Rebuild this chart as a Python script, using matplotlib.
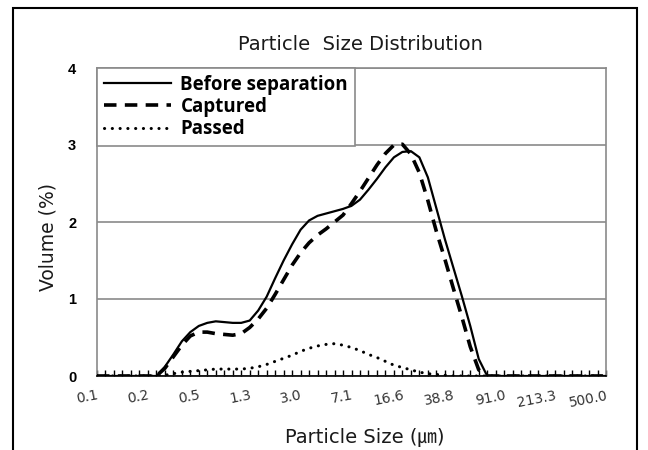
import numpy as np
import matplotlib
matplotlib.use("Agg")
import matplotlib.pyplot as plt
from matplotlib.patches import Rectangle

# ---- data (volume % per size class) ----
before = [0, 0, 0, 0, 0, 0, 0, 0, 0.12, 0.28,
          0.45, 0.57, 0.65, 0.69, 0.71, 0.70, 0.69, 0.69, 0.72, 0.85,
          1.03, 1.27, 1.50, 1.71, 1.90, 2.02, 2.08, 2.11, 2.14, 2.17,
          2.21, 2.29, 2.42, 2.56, 2.71, 2.84, 2.91, 2.92, 2.84, 2.58,
          2.18, 1.78, 1.41, 1.04, 0.65, 0.22, 0, 0, 0, 0,
          0, 0, 0, 0, 0, 0, 0, 0, 0, 0, 0]
captured = [0, 0, 0, 0, 0, 0, 0, 0, 0.10, 0.25,
            0.40, 0.52, 0.57, 0.57, 0.55, 0.54, 0.53, 0.55, 0.63, 0.74,
            0.88, 1.06, 1.25, 1.44, 1.60, 1.73, 1.83, 1.91, 2.00, 2.09,
            2.24, 2.40, 2.57, 2.74, 2.89, 3.00, 3.01, 2.88, 2.64, 2.28,
            1.88, 1.52, 1.14, 0.77, 0.38, 0.08, 0, 0, 0, 0,
            0, 0, 0, 0, 0, 0, 0, 0, 0, 0, 0]
passed = [0, 0, 0, 0, 0, 0, 0, 0, 0.01, 0.03,
          0.05, 0.06, 0.07, 0.08, 0.09, 0.09, 0.09, 0.09, 0.10, 0.12,
          0.15, 0.19, 0.23, 0.27, 0.32, 0.36, 0.39, 0.41, 0.42, 0.40,
          0.37, 0.33, 0.28, 0.24, 0.19, 0.14, 0.11, 0.08, 0.05, 0.03,
          0.02, 0.01, 0, 0, 0, 0, 0, 0, 0, 0,
          0, 0, 0, 0, 0, 0, 0, 0, 0, 0, 0]
size_labels = ["0.1", "0.2", "0.5", "1.3", "3.0", "7.1",
               "16.6", "38.8", "91.0", "213.3", "500.0"]
label_step = 6

plt.rcParams['lines.scale_dashes'] = False
plt.rcParams['font.family'] = ['DejaVu Sans', 'Noto Sans CJK KR']
x = np.arange(len(before))

fig = plt.figure(figsize=(6.48, 4.5), dpi=100)
ax = fig.add_axes([97 / 648, 1 - 376 / 450, 509 / 648, 308 / 450])

ax.plot(x, before, color='black', lw=1.6, label='Before separation', zorder=4)
ax.plot(x, captured, color='black', lw=2.6, dashes=(9, 6),
        label='Captured', zorder=3)
ax.plot(x, passed, color='black', lw=2.2, dashes=(0.1, 5.5),
        dash_capstyle='round', label='Passed', zorder=3)

ax.set_xlim(0, len(before) - 1)
ax.set_ylim(0, 4)
ax.set_yticks([0, 1, 2, 3, 4])
ax.set_yticklabels(['0', '1', '2', '3', '4'], fontweight='bold',
                   fontsize=10.5, family='Liberation Sans')
ax.tick_params(axis='y', length=0, pad=15)
ax.grid(axis='y', color='#8a8a8a', lw=1.2)
ax.set_axisbelow(True)

ax.set_xticks(x[::label_step])
ax.set_xticklabels(size_labels, rotation=11, ha='right',
                   rotation_mode='anchor', fontsize=10, color='#333333')
ax.set_xticks(x, minor=True)
ax.tick_params(axis='x', which='both', direction='in', length=4,
               width=1, pad=9, top=False)

for s in ['top', 'right', 'left']:
    ax.spines[s].set_color('#8a8a8a')
    ax.spines[s].set_linewidth(1.2)
ax.spines['bottom'].set_color('black')
ax.spines['bottom'].set_linewidth(1.2)

leg = ax.legend(loc='upper left', bbox_to_anchor=(0, 1), borderaxespad=0,
                fancybox=False, edgecolor='#8a8a8a', framealpha=1,
                handlelength=3.6, handletextpad=0.5, labelspacing=0.12,
                borderpad=0.35,
                prop={'family': 'Open Sans', 'weight': 'bold', 'size': 13.5})
leg.get_frame().set_linewidth(1.2)

fig.text(0.556, 0.9, 'Particle  Size Distribution', ha='center', va='center',
         fontsize=14, color='#1a1a1a')
fig.text(0.563, 0.027, 'Particle Size (\u339b)', ha='center', va='center',
         fontsize=14, color='#1a1a1a')
fig.text(0.074, 0.473, 'Volume (%)', ha='center', va='center', rotation=90,
         fontsize=13.5, color='#1a1a1a')

fig.patches.append(Rectangle((13 / 648, -0.1), 624 / 648, 1.1 - 8 / 450,
                             transform=fig.transFigure, fill=False,
                             edgecolor='black', lw=1.5))

fig.savefig('out.png', dpi=100)
